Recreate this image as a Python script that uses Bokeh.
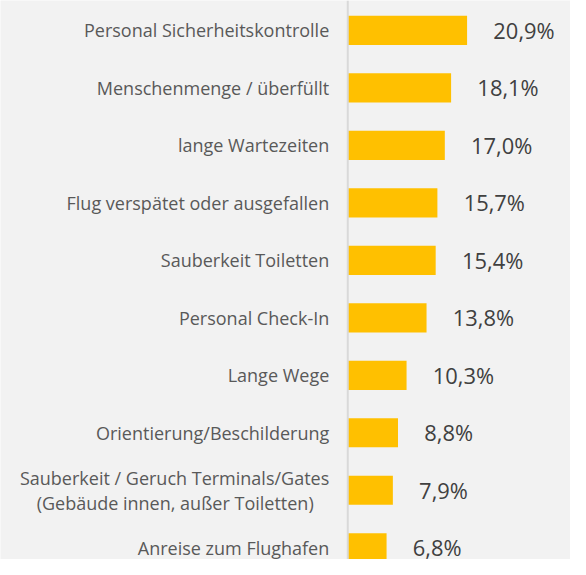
from bokeh.plotting import figure
from bokeh.models import ColumnDataSource, Range1d, Span
from bokeh.core.properties import value
from bokeh.embed import file_html
from bokeh.resources import INLINE

categories = [
    "Personal Sicherheitskontrolle",
    "Menschenmenge / überfüllt",
    "lange Wartezeiten",
    "Flug verspätet oder ausgefallen",
    "Sauberkeit Toiletten",
    "Personal Check-In",
    "Lange Wege",
    "Orientierung/Beschilderung",
    "Sauberkeit / Geruch Terminals/Gates\n(Gebäude innen, außer Toiletten)",
    "Anreise zum Flughafen",
]
values = [20.9, 18.1, 17.0, 15.7, 15.4, 13.8, 10.3, 8.8, 7.9, 6.8]
value_labels = ["20,9%", "18,1%", "17,0%", "15,7%", "15,4%", "13,8%", "10,3%", "8,8%", "7,9%", "6,8%"]

BG = "#F2F2F2"
W, H = 570, 559
s = W / 586.0                      # scale of the reference layout into the figure
px_per_unit_x = 5.87 * s
zero_px = 357 * s
row_px = 59.1 * s
first_row_px = 30.7 * s

p = figure(
    width=W, height=H, output_backend="svg", toolbar_location=None,
    x_range=Range1d(-zero_px / px_per_unit_x, (W - zero_px) / px_per_unit_x),
    y_range=Range1d((H - first_row_px) / row_px, -first_row_px / row_px),
    min_border=0, background_fill_color=BG, border_fill_color=BG,
)
p.axis.visible = False
p.grid.visible = False
p.outline_line_color = None

ys = list(range(len(values)))
src = ColumnDataSource(dict(y=ys, v=values, lab=value_labels))
p.hbar(y="y", left=0, right="v", height=0.508, source=src,
       fill_color="#FFC000", line_color=None)

p.add_layout(Span(location=0, dimension="height", line_color="#D9D9D9", line_width=2))

# value labels
p.text(x="v", y="y", text="lab", source=src, x_offset=27 * s,
       text_align="left", text_baseline="middle",
       text_font=value("Open Sans"), text_font_size=f"{22.5 * s:.1f}px", text_color="#404040")

# category labels (multi-line labels split into lines)
lx, ly, lt, lxo, lyo = [], [], [], [], []
line_gap = 26 * s
for i, c in enumerate(categories):
    lines = c.split("\n")
    n = len(lines)
    for k, t in enumerate(lines):
        lx.append(0)
        ly.append(i)
        lt.append(t)
        lxo.append((-19 - (16 if k > 0 else 0)) * s)
        lyo.append((k - (n - 1) / 2) * line_gap)
csrc = ColumnDataSource(dict(x=lx, y=ly, t=lt, xo=lxo, yo=lyo))
p.text(x="x", y="y", text="t", source=csrc, x_offset="xo", y_offset="yo",
       text_align="right", text_baseline="middle",
       text_font=value("Open Sans"), text_font_size=f"{18.5 * s:.1f}px", text_color="#595959")

open("out.html", "w").write(file_html(p, INLINE))
